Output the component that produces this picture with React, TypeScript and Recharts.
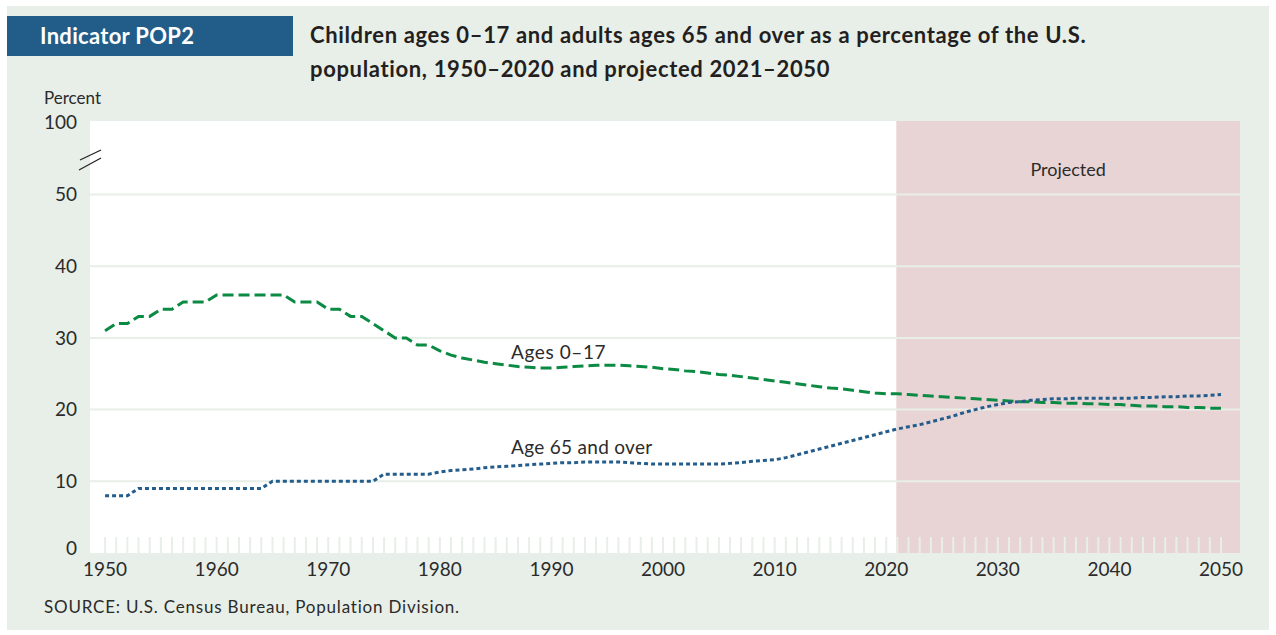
import {
  Label,
  Line,
  LineChart,
  ReferenceArea,
  ReferenceLine,
  XAxis,
  YAxis,
} from "recharts";

// years 1950..2050, one point per year
const years = Array.from({ length: 101 }, (_, i) => 1950 + i);

const children = [
  31, 32, 32, 33, 33, 34, 34, 35, 35, 35,
  36, 36, 36, 36, 36, 36, 36, 35, 35, 35,
  34, 34, 33, 33, 32, 31, 30, 30, 29, 29,
  28.2, 27.6, 27.2, 26.9, 26.6, 26.4, 26.2, 26.0, 25.9, 25.8,
  25.8, 25.9, 26.0, 26.1, 26.2, 26.2, 26.2, 26.1, 26.0, 25.9,
  25.7, 25.6, 25.4, 25.3, 25.1, 24.9, 24.8, 24.6, 24.4, 24.2,
  24.0, 23.8, 23.6, 23.4, 23.2, 23.0, 22.9, 22.7, 22.5, 22.3,
  22.2, 22.2, 22.1, 22.0, 21.9, 21.8, 21.7, 21.6, 21.5, 21.4,
  21.3, 21.2, 21.1, 21.1, 21.0, 21.0, 20.9, 20.9, 20.8, 20.8,
  20.7, 20.7, 20.6, 20.5, 20.5, 20.4, 20.4, 20.3, 20.3, 20.2,
  20.2,
];

const olderAdults = [
  8, 8, 8, 9, 9, 9, 9, 9, 9, 9,
  9, 9, 9, 9, 9, 10, 10, 10, 10, 10,
  10, 10, 10, 10, 10, 11, 11, 11, 11, 11,
  11.3, 11.5, 11.6, 11.7, 11.9, 12.0, 12.1, 12.2, 12.3, 12.4,
  12.5, 12.6, 12.6, 12.7, 12.7, 12.7, 12.7, 12.6, 12.5, 12.4,
  12.4, 12.4, 12.4, 12.4, 12.4, 12.4, 12.5, 12.6, 12.8, 12.9,
  13.0, 13.3, 13.7, 14.1, 14.5, 14.9, 15.3, 15.7, 16.1, 16.5,
  16.9, 17.3, 17.6, 17.9, 18.3, 18.7, 19.1, 19.6, 20.0, 20.4,
  20.7, 21.0, 21.1, 21.3, 21.4, 21.5, 21.5, 21.6, 21.6, 21.6,
  21.6, 21.6, 21.6, 21.7, 21.7, 21.8, 21.8, 21.9, 21.9, 22.0,
  22.1,
];

const yTicks = [0, 10, 20, 30, 40, 50, 60];
const gridValues = [10, 20, 30, 40, 50];

const data = years.map((year, i) => ({
  year,
  children: children[i],
  older: olderAdults[i],
}));

const FONT = "Lato, 'Open Sans', sans-serif";
const PANEL = "#e8eee8";
const TEXT = "#2b2b2b";

// the axis is broken above 50: the top tick stands for 100
const yLabel = (v: number) => (v === 60 ? "100" : String(v));

function YTick(props: any) {
  const { x, y, payload } = props;
  return (
    <text
      x={x}
      y={payload.value === 0 ? y - 5 : y}
      dy="0.35em"
      textAnchor="end"
      fill={TEXT}
      fontSize={19}
      fontFamily={FONT}
    >
      {yLabel(payload.value)}
    </text>
  );
}

export default function App() {
  return (
    <div
      style={{
        position: "absolute",
        left: 0,
        top: 0,
        width: 1276,
        height: 635,
        background: "#fff",
        fontFamily: FONT,
        color: TEXT,
      }}
    >
      <div
        style={{
          position: "absolute",
          left: 7,
          top: 6,
          width: 1262,
          height: 624,
          background: PANEL,
        }}
      />
      <div
        style={{
          position: "absolute",
          left: 7,
          top: 16,
          width: 286,
          height: 40,
          background: "#215d88",
          color: "#fff",
          fontWeight: 700,
          fontSize: 22,
          letterSpacing: 0.3,
          lineHeight: "40px",
          paddingLeft: 33,
          boxSizing: "border-box",
        }}
      >
        Indicator POP2
      </div>
      <div
        style={{
          position: "absolute",
          left: 310,
          top: 18,
          fontWeight: 700,
          fontSize: 22,
          letterSpacing: 0.65,
          lineHeight: "34px",
          color: "#231f20",
        }}
      >
        Children ages 0–17 and adults ages 65 and over as a percentage of the U.S.
        <br />
        population, 1950–2020 and projected 2021–2050
      </div>
      <div style={{ position: "absolute", left: 44, top: 87, fontSize: 17 }}>
        Percent
      </div>

      <LineChart
        width={1276}
        height={635}
        data={data}
        margin={{ top: 121, right: 36, left: 30, bottom: 52 }}
        style={{ position: "absolute", left: 0, top: 0 }}
      >
        <ReferenceArea
          x1={1948.65}
          x2={2051.7}
          fill="#fff"
          fillOpacity={1}
          stroke="none"
        />
        <ReferenceArea
          x1={2020.9}
          x2={2051.7}
          fill="#e9d4d5"
          fillOpacity={1}
          stroke="none"
        >
          <Label
            value="Projected"
            position="insideTop"
            offset={42}
            fill={TEXT}
            fontSize={18}
            fontFamily={FONT}
          />
        </ReferenceArea>
        {gridValues.map((v) => (
          <ReferenceLine key={v} y={v} stroke={PANEL} strokeWidth={2} />
        ))}
        <XAxis
          dataKey="year"
          type="number"
          domain={[1948.65, 2051.7]}
          allowDataOverflow
          ticks={years}
          interval={0}
          tickFormatter={(v: number) => (v % 10 === 0 ? String(v) : "")}
          axisLine={false}
          tickLine={{ stroke: PANEL, strokeWidth: 2 }}
          tickSize={-16}
          tickMargin={26}
          tick={{ fill: TEXT, fontSize: 19, fontFamily: FONT }}
        />
        <YAxis
          domain={[0, 60.25]}
          allowDataOverflow
          ticks={yTicks}
          interval={0}
          width={60}
          axisLine={false}
          tickLine={false}
          tickSize={0}
          tickMargin={13}
          tick={<YTick />}
        />
        <Line
          dataKey="children"
          name="Ages 0–17"
          type="linear"
          stroke="#0b8a43"
          strokeWidth={3}
          strokeDasharray="11 5"
          dot={false}
          isAnimationActive={false}
        />
        <Line
          dataKey="older"
          name="Age 65 and over"
          type="linear"
          stroke="#245d8c"
          strokeWidth={3}
          strokeDasharray="4 3"
          dot={false}
          isAnimationActive={false}
        />
      </LineChart>

      {/* axis break mark */}
      <svg
        width={30}
        height={30}
        style={{ position: "absolute", left: 76, top: 146 }}
      >
        <line x1={4} y1={14} x2={25} y2={4} stroke="#222" strokeWidth={1.2} />
        <line x1={3} y1={24} x2={25} y2={12} stroke="#222" strokeWidth={1.2} />
      </svg>

      <div
        style={{
          position: "absolute",
          left: 511,
          top: 340,
          fontSize: 19,
          letterSpacing: 0.6,
        }}
      >
        Ages 0–17
      </div>
      <div
        style={{
          position: "absolute",
          left: 511,
          top: 435,
          fontSize: 19,
          letterSpacing: 0.3,
        }}
      >
        Age 65 and over
      </div>
      <div
        style={{
          position: "absolute",
          left: 44,
          top: 596,
          fontSize: 17,
          letterSpacing: 0.8,
        }}
      >
        SOURCE: U.S. Census Bureau, Population Division.
      </div>
    </div>
  );
}
